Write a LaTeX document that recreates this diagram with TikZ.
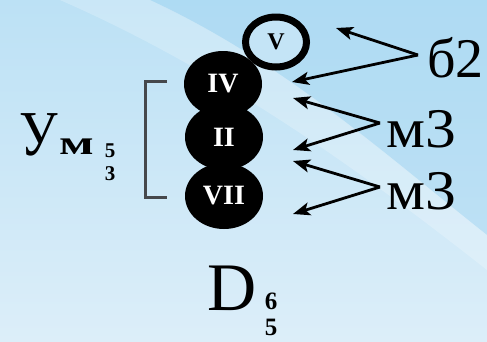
\documentclass[tikz,border=0pt]{standalone}
\usepackage{fontspec}
\usepackage{graphicx}
\setmainfont{Liberation Serif}
\usetikzlibrary{shapes.geometric,arrows.meta}
\definecolor{bgtop}{RGB}{188,225,245}
\definecolor{bgbot}{RGB}{220,238,249}
\definecolor{bgblue}{RGB}{150,208,240}
\definecolor{ovalfill}{RGB}{196,228,246}
\definecolor{brk}{RGB}{70,72,76}
\newcommand{\fs}[1]{\fontsize{#1}{#1}\selectfont}
\begin{document}
\begin{tikzpicture}[x=1pt,y=-1pt,
  deg/.style={ellipse, fill=black, minimum width=78pt, minimum height=66pt,
    inner sep=0pt, text=white, font=\bfseries\fs{28}},
  ptr/.style={-{Stealth[length=17pt,width=13pt,inset=4pt]}, line width=2.8pt},
  big/.style={anchor=base west, inner sep=0pt, font=\fs{56}},
  idx/.style={inner sep=0pt, font=\bfseries\fs{21}}]
% backdrop
\useasboundingbox (0,0) rectangle (487,341);
\shade[top color=bgtop, bottom color=bgbot] (0,0) rectangle (487,341);
\fill[bgblue, opacity=0.35] (150,0) .. controls (280,60) and (380,150) .. (487,235) -- (487,0) -- cycle;
\fill[white, opacity=0.22] (60,0) .. controls (220,70) and (360,170) .. (487,270) -- (487,235)
  .. controls (380,150) and (280,60) .. (150,0) -- cycle;

% chord column
\node[deg] (vii) at (224,196) {VII};
\node[deg] (ii)  at (224,137) {II};
\node[deg] (iv)  at (223,84)  {IV};
\node[ellipse, draw=black, line width=7pt, fill=ovalfill, minimum width=61pt,
  minimum height=50pt, inner sep=0pt, font=\bfseries\fs{24}] (v) at (276,42) {V};

% bracket
\coordinate (bt) at (167,81);
\coordinate (bb) at (167,197);
\draw[brk, line width=3pt] (bt) -- ++(-22,0) |- (bb);

% left label
\node[anchor=base west, inner sep=0pt, font=\fs{64}] (u) at (19,155) {\scalebox{0.85}[1]{У}};
\node[anchor=base west, inner sep=0pt, font=\bfseries\fs{34}] (m) at (59,154) {\scalebox{1.5}[1]{м}};
\node[idx] (u5) at (110,151) {5};
\node[idx] (u3) at (110,174) {3};

% bottom label
\node[anchor=base west, inner sep=0pt, font=\fs{68}] (d) at (207,310) {D};
\node[idx, font=\bfseries\fs{25}] (d6) at (271,301) {6};
\node[idx, font=\bfseries\fs{25}] (d5) at (271,327) {5};

% interval labels
\node[big] (b2) at (427,77) {б2};
\node[big] (m3a) at (386,147) {\scalebox{1.1}[1]{м3}};
\node[big] (m3b) at (386,209) {\scalebox{1.1}[1]{м3}};

\coordinate (b2v) at (418,55);
\coordinate (m3av) at (380,123);
\coordinate (m3bv) at (380,187);
\coordinate (t1) at (336,28);
\coordinate (t2) at (292,82);
\coordinate (t3) at (293,98);
\coordinate (t4) at (293,150);
\coordinate (t5) at (293,161);
\coordinate (t6) at (293,214);

\draw[ptr] (b2v) -- (t1);
\draw[ptr] (b2v) -- (t2);
\draw[ptr] (m3av) -- (t3);
\draw[ptr] (m3av) -- (t4);
\draw[ptr] (m3bv) -- (t5);
\draw[ptr] (m3bv) -- (t6);
\end{tikzpicture}
\end{document}
